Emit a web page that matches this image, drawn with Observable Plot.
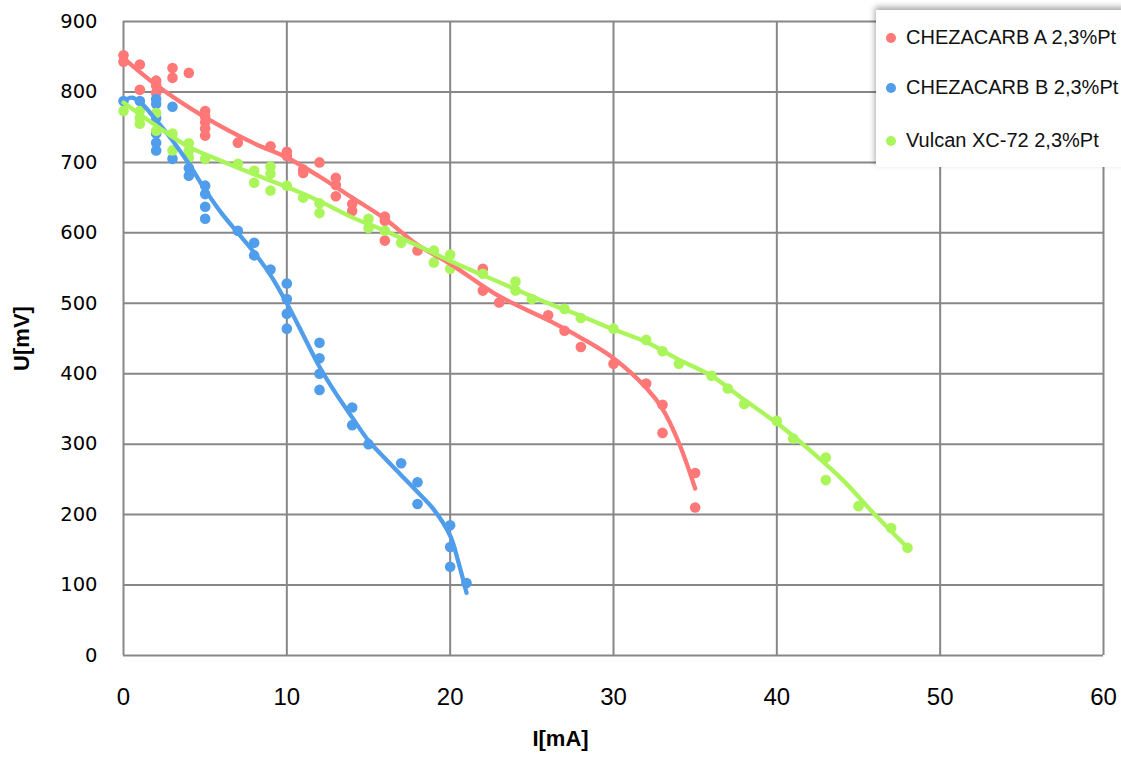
<!DOCTYPE html>
<html>
<head>
<meta charset="utf-8">
<script src="https://cdn.jsdelivr.net/npm/d3@7"></script>
<script src="https://cdn.jsdelivr.net/npm/@observablehq/plot@0.6"></script>
<style>
  html, body { margin: 0; padding: 0; background: #fff; }
  #wrap { position: relative; width: 1121px; height: 760px; overflow: hidden; }
  #legend {
    position: absolute; left: 876px; top: 10px; width: 250px; height: 157px;
    background: #fff; box-shadow: -1px -3px 6px rgba(0,0,0,0.35);
    font-family: "Liberation Sans", Arial, sans-serif; font-size: 20px; color: #111;
  }
  .item { position: absolute; left: 10px; display: flex; align-items: center; white-space: nowrap; }
  .sw { width: 10px; height: 10px; border-radius: 50%; margin-right: 10px; }
</style>
</head>
<body>
<div id="wrap">
  <div id="chart"></div>
  <div id="legend"></div>
</div>
<script>
// ---- data ----
const seriesNames = ["CHEZACARB A 2,3%Pt", "CHEZACARB B 2,3%Pt", "Vulcan XC-72 2,3%Pt"];
const seriesColors = ["#FF7777", "#509DEB", "#AAF55A"];

const xTicks = [0, 10, 20, 30, 40, 50, 60];
const yTicks = [0, 100, 200, 300, 400, 500, 600, 700, 800, 900];

// CHEZACARB A measured points
const xA = [0,0,1,1,2,2,2,3,3,4,5,5,5,5,5,7,9,10,10,11,11,12,13,13,13,14,14,16,16,16,18,22,22,23,26,27,28,30,32,33,33,35,35];
const yA = [852,843,839,803,816,809,799,834,820,827,773,765,757,748,738,728,723,715,709,690,685,700,678,668,652,641,631,623,617,589,575,549,518,501,483,461,438,414,386,356,316,259,210];
// CHEZACARB A trend line
const xAfit = [0,2,5,8,10,12,14,16,18,20,23,26,28,30,32,33,34,35];
const yAfit = [848,810,764,727,707,680,650,620,583,556,510,476,451,422,380,350,302,237];

// CHEZACARB B measured points
const xB = [0,1,2,2,2,2,2,2,3,3,4,4,5,5,5,5,7,8,8,9,10,10,10,10,12,12,12,12,14,14,15,17,18,18,20,20,20,21];
const yB = [787,787,790,783,763,741,728,717,779,705,692,681,667,655,637,620,603,586,568,548,528,506,485,464,444,422,400,377,352,327,300,273,246,215,185,154,126,103];
// CHEZACARB B trend line
const xBfit = [0,0.5,1,2,3,4,5,6,7,8,9,10,11,12,13,14,15,16,17,18,19,20,20.5,21];
const yBfit = [787,792,786,760,731,698,661,628,600,572,540,500,455,410,372,338,305,280,256,232,207,170,133,89];

// Vulcan XC-72 measured points
const xC = [0,1,1,1,2,2,3,3,4,4,4,5,7,8,8,9,9,9,10,11,12,12,15,15,16,17,19,19,20,20,22,24,24,25,27,28,30,32,33,34,36,37,38,40,41,43,43,45,47,48];
const yC = [773,773,763,755,770,745,741,717,727,717,707,705,698,688,671,694,684,660,667,650,642,628,620,607,603,586,575,558,569,549,542,531,518,506,492,479,464,448,432,414,397,379,357,333,308,281,249,212,181,153];
// Vulcan XC-72 trend line
const xCfit = [0,2,4,6,8,10,12,14,16,18,20,22,24,26,28,30,32,34,36,38,40,42,44,46,48];
const yCfit = [785,752,722,702,683,665,645,622,603,582,560,540,520,500,482,463,445,420,397,363,330,292,250,200,153];

// ---- build tables ----
const toRows = (xs, ys, s) => xs.map((x, i) => ({x, y: ys[i], s}));
const pts = [
  ...toRows(xA, yA, seriesNames[0]),
  ...toRows(xB, yB, seriesNames[1]),
  ...toRows(xC, yC, seriesNames[2])
];
const fits = [
  toRows(xAfit, yAfit, seriesNames[0]),
  toRows(xBfit, yBfit, seriesNames[1]),
  toRows(xCfit, yCfit, seriesNames[2])
];

const gridStyle = {stroke: "#878787", strokeOpacity: 1, strokeWidth: 2};

const chart = Plot.plot({
  width: 1121,
  height: 760,
  marginLeft: 123,
  marginRight: 18,
  marginTop: 21,
  marginBottom: 105,
  style: {background: "#fff", color: "#000"},
  x: {domain: [0, 60]},
  y: {domain: [0, 900]},
  color: {domain: seriesNames, range: seriesColors},
  marks: [
    Plot.gridX(xTicks, {x: d => d, ...gridStyle}),
    Plot.gridY(yTicks, {y: d => d, ...gridStyle}),
    Plot.axisY({ticks: yTicks, tickSize: 0, tickPadding: 26, fontSize: 19.5, fontFamily: "DejaVu Sans", label: null}),
    Plot.axisX({ticks: xTicks, tickSize: 0, tickPadding: 32, fontSize: 24, fontFamily: "Liberation Sans", label: null}),
    Plot.text(["U[mV]"], {frameAnchor: "left", textAnchor: "middle", dx: -102, rotate: -90, fontSize: 22, fontWeight: "bold", fontFamily: "Liberation Sans"}),
    Plot.text(["I[mA]"], {frameAnchor: "bottom", textAnchor: "middle", dx: -53, dy: 90, fontSize: 22, fontWeight: "bold", fontFamily: "Liberation Sans"}),
    Plot.dot(pts, {x: "x", y: "y", fill: "s", r: 5.3, stroke: null}),
    ...fits.map(f => Plot.line(f, {x: "x", y: "y", stroke: "s", strokeWidth: 4.3, curve: "catmull-rom"}))
  ]
});
document.getElementById("chart").appendChild(chart);

// ---- legend ----
const leg = document.getElementById("legend");
const rowTops = [28, 78, 131];
seriesNames.forEach((name, i) => {
  const it = document.createElement("div");
  it.className = "item";
  it.style.top = (rowTops[i] - 12) + "px";
  const sw = document.createElement("span");
  sw.className = "sw";
  sw.style.background = seriesColors[i];
  const tx = document.createElement("span");
  tx.textContent = name;
  it.appendChild(sw);
  it.appendChild(tx);
  leg.appendChild(it);
});
</script>
</body>
</html>
